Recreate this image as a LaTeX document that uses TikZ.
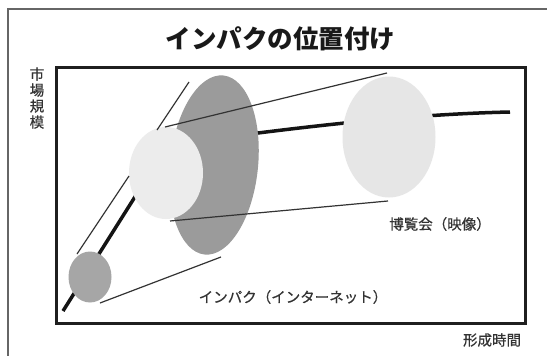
\documentclass[tikz,border=0pt]{standalone}
\usepackage{fontspec}
\newfontfamily\jp[FakeBold=0.6]{Noto Sans CJK JP}
\newfontfamily\jptitle{Noto Sans CJK JP}
\usetikzlibrary{shapes.geometric}
\definecolor{darkg}{HTML}{9B9B9B}
\definecolor{smallg}{HTML}{A6A6A6}
\definecolor{lightg}{HTML}{ECECEC}
\definecolor{lightg2}{HTML}{E6E6E6}
\definecolor{txt}{HTML}{333333}
\tikzset{
  frameline/.style={line width=3pt, draw=black!88},
  outerline/.style={line width=1.4pt, draw=black!60},
  thinline/.style={line width=1.2pt, draw=black!80},
  thickline/.style={line width=3.5pt, draw=black!92},
  blob/.style={ellipse, draw=none, inner sep=0pt},
  lbl/.style={font=\jp\fontsize{14.5}{16}\selectfont, text=txt, inner sep=0pt},
}
\begin{document}
\begin{tikzpicture}[x=1pt,y=-1pt]
\useasboundingbox (0,0) rectangle (547,356);
\fill[white] (0,0) rectangle (547,356);
% outer frame
\draw[outerline] (8,356) -- (8,9) -- (547,9);
% title
\node[font=\jptitle\bfseries\fontsize{25.5}{26}\selectfont, text=black!90, inner sep=0pt] (title) at (280.5,39) {インパクの位置付け};
% inner box
\draw[frameline] (56,67) rectangle (525,323);
% axis labels
\node[lbl, align=center, font=\jp\fontsize{14.5}{16}\selectfont] (ylab) at (37,98) {市\\場\\規\\模};
\node[lbl] (xlab) at (492,340) {形成時間};
% thick curve
\coordinate (c0) at (63,311);
\coordinate (c1) at (150,173);
\coordinate (c2) at (258,133);
\coordinate (c3) at (510,112);
\draw[thickline] (c0) -- (c1) .. controls (190,140) and (220,136) .. (c2) .. controls (330,124) and (420,114) .. (c3);
% shapes
\node[blob, fill=darkg, minimum width=88pt, minimum height=180pt, rotate=-6] (big) at (214,165) {};
\node[blob, fill=lightg, minimum width=74pt, minimum height=92pt] (mid) at (166,173) {};
\node[blob, fill=lightg2, minimum width=93pt, minimum height=121pt] (right) at (389,137) {};
\node[blob, fill=smallg, minimum width=43pt, minimum height=51pt] (small) at (90,277) {};
% thin lines
\coordinate (a1) at (77,254);
\coordinate (a2) at (129,176);
\coordinate (b1) at (100,303);
\coordinate (b2) at (221,257);
\coordinate (d1) at (157,130);
\coordinate (d2) at (189,82);
\coordinate (e1) at (165,127);
\coordinate (e2) at (387,73);
\coordinate (f1) at (170,221);
\coordinate (f2) at (388,201);
\draw[thinline] (a1) -- (a2);
\draw[thinline] (b1) -- (b2);
\draw[thinline] (d1) -- (d2);
\draw[thinline] (e1) -- (e2);
\draw[thinline] (f1) -- (f2);
% labels
\node[lbl] (expo) at (440,224) {博覧会（映像）};
\node[lbl] (inpaku) at (293,297) {インパク（インターネット）};
\end{tikzpicture}
\end{document}
